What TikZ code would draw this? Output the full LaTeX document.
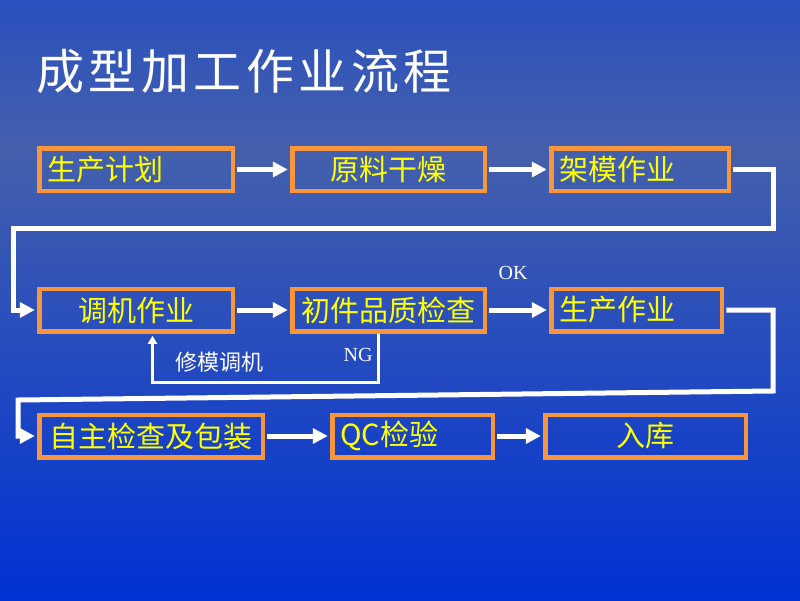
\documentclass[tikz,border=0pt]{standalone}
\usepackage{fontspec}
\newfontfamily\cjk{Noto Sans CJK SC}
\newfontfamily\titlefont[LetterSpace=9.4]{Noto Sans CJK SC}
\newfontfamily\lblserif{Liberation Serif}
\usetikzlibrary{arrows.meta}
\definecolor{bgtop}{RGB}{42,80,190}
\definecolor{bgmid}{RGB}{68,96,172}
\definecolor{bgbot}{RGB}{0,50,212}
\definecolor{boxorange}{RGB}{247,150,60}
\definecolor{txtyellow}{RGB}{255,255,0}
\begin{document}
\begin{tikzpicture}[x=1pt,y=-1pt,
  box/.style={draw=boxorange, line width=4.5pt, inner xsep=8pt, inner ysep=0pt,
    minimum height=42.5pt, text=txtyellow, font=\cjk\fontsize{29}{29}\selectfont},
  conn/.style={draw=white, line width=5pt, shorten <=2.25pt, shorten >=2.25pt,
    -{Triangle[length=15pt,width=15pt]}},
  thinconn/.style={draw=white, line width=3pt, shorten >=2.25pt,
    -{Triangle[length=8pt,width=9pt]}},
  lbl/.style={text=white, inner sep=0pt, font=\lblserif\fontsize{20}{20}\selectfont},
  cjklbl/.style={text=white, inner sep=0pt, font=\cjk\fontsize{22}{22}\selectfont}]
\useasboundingbox (0,0) rectangle (800,600);
\shade[top color=bgtop,bottom color=bgmid] (0,0) rectangle (800,151);
\shade[top color=bgmid,bottom color=bgbot] (0,150) rectangle (800,600);

\node[anchor=west, text=white, inner sep=0pt,
  font=\titlefont\fontsize{48}{48}\selectfont] (title) at (36,71) {成型加工作业流程};

% row 1
\node[box, text width=177.5pt, align=left]   (b1) at (136,169.5)   {生产计划};
\node[box, text width=176.5pt, align=center] (b2) at (388.5,169.5) {原料干燥};
\node[box, text width=161.5pt, align=left]   (b3) at (640,169.5)   {架模作业};
% row 2
\node[box, text width=177.5pt, align=center] (b4) at (136,310)     {调机作业};
\node[box, text width=176.5pt, align=center] (b5) at (388.5,310)   {初件品质检查};
\node[box, text width=154.5pt, align=left]   (b6) at (636.5,310)   {生产作业};
% row 3
\node[box, text width=207.5pt, align=center] (b7) at (151,436)     {自主检查及包装};
\node[box, text width=144.5pt, align=left]   (b8) at (412.5,436)   {QC检验};
\node[box, text width=184.5pt, align=center] (b9) at (645.5,436)   {入库};

% bend points
\coordinate (r1) at (773,169.5);
\coordinate (r2) at (773,228);
\coordinate (l1) at (13,228);
\coordinate (r3) at (773,310);
\coordinate (r4) at (773,391);
\coordinate (l2) at (18,400);
\coordinate (ngA) at (378.5,382);
\coordinate (ngB) at (152.5,382);

\draw[conn] (b1) -- (b2);
\draw[conn] (b2) -- (b3);
\draw[conn] (b3.east) -- (r1) -- (r2) -- (l1) |- (b4.west);
\draw[conn] (b4) -- (b5);
\draw[conn] (b5) -- (b6);
\draw[conn] (b6.east) -- (r3) -- (r4) -- (l2) |- (b7.west);
\draw[conn] (b7) -- (b8);
\draw[conn] (b8) -- (b9);
\draw[thinconn] (b5.south -| ngA) -- (ngA) -- (ngB) -- (ngB |- b4.south);

\node[lbl] (ok) at (513,273) {OK};
\node[lbl] (ng) at (358,355) {NG};
\node[cjklbl] (xiu) at (219,362) {修模调机};
\end{tikzpicture}
\end{document}
